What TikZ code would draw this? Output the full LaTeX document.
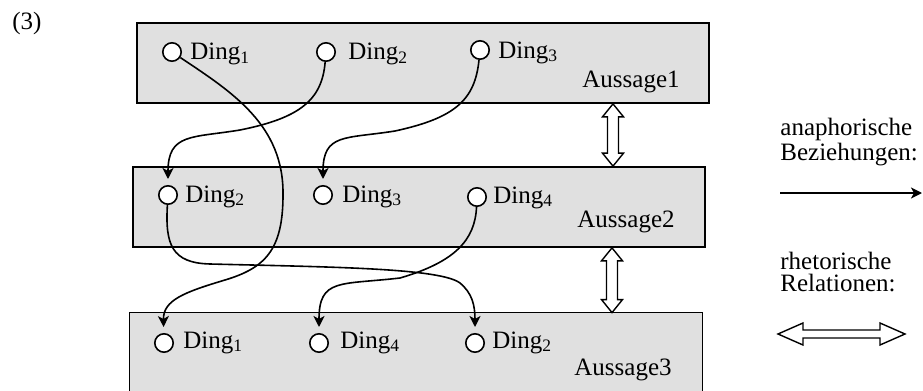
\documentclass[tikz,border=0pt]{standalone}
\usepackage{fontspec}
\setmainfont{Liberation Serif}
\usetikzlibrary{arrows.meta,calc}
\definecolor{boxgray}{RGB}{224,224,224}
\begin{document}
\begin{tikzpicture}[x=0.5pt,y=-0.5pt,
  box/.style={draw, line width=0.85pt, fill=boxgray, rectangle, inner sep=0,
    minimum width=286pt, minimum height=40pt},
  ding/.style={circle, draw, line width=0.8pt, fill=white, minimum size=9.2pt, inner sep=0},
  lbl/.style={anchor=base west, inner sep=0, font=\fontsize{12.5pt}{10pt}\selectfont},
  legend/.style={anchor=base west, inner sep=0, align=left, font=\fontsize{12.5pt}{10.6pt}\selectfont},
  link/.style={line width=0.8pt, -{Stealth[length=5.5pt,width=5.5pt,inset=1.5pt]}, shorten >=3pt},
  hollow/.style={draw, line width=0.7pt, fill=white, line join=miter}]
\useasboundingbox (0,0) rectangle (923,391);

% boxes
\node[box] (b1) at (423,63) {};
\node[box] (b2) at (419,207) {};
\node[fill=boxgray, inner sep=0, minimum width=286pt, minimum height=39pt] (b3) at (416,352) {};
\draw[line width=0.85pt] (b3.south west) |- (b3.north east) -- (b3.south east);

% circles
\node[ding] (c11) at (172,52) {};
\node[ding] (c12) at (326,52) {};
\node[ding] (c13) at (480,50) {};
\node[ding] (c22) at (168,195) {};
\node[ding] (c23) at (323,195) {};
\node[ding] (c24) at (477,197) {};
\node[ding] (c31) at (164,343) {};
\node[ding] (c34) at (319,343) {};
\node[ding] (c32) at (475,343) {};

% labels
\node[lbl] (t11) at (190,60) {Ding\textsubscript{1}};
\node[lbl] (t12) at (348,60) {Ding\textsubscript{2}};
\node[lbl] (t13) at (498,58) {Ding\textsubscript{3}};
\node[lbl] (t22) at (185,202) {Ding\textsubscript{2}};
\node[lbl] (t23) at (342,202) {Ding\textsubscript{3}};
\node[lbl] (t24) at (493,203) {Ding\textsubscript{4}};
\node[lbl] (t31) at (183,348) {Ding\textsubscript{1}};
\node[lbl] (t34) at (340,348) {Ding\textsubscript{4}};
\node[lbl] (t32) at (492,348) {Ding\textsubscript{2}};
\node[lbl] (a1) at (582,87) {Aussage1};
\node[lbl] (a2) at (577,227) {Aussage2};
\node[lbl] (a3) at (574,375) {Aussage3};
\node[lbl] (num) at (12,30) {(3)};
\node[legend] (l1) at (780,160) {anaphorische\\Beziehungen:};
\node[legend] (l3) at (780,291) {rhetorische\\Relationen:};

% anaphoric links
\draw[link] (c11) .. controls (232,92) and (284,125) .. (283,195)
  .. controls (283,250) and (265,268) .. (225,280)
  .. controls (185,292) and (163,300) .. (c31);
\draw[link] (c12) .. controls (322,100) and (300,118) .. (240,130)
  .. controls (192,138) and (168,133) .. (c22);
\draw[link] (c13) .. controls (475,100) and (455,118) .. (395,131)
  .. controls (345,139) and (323,133) .. (c23);
\draw[link] (c22) .. controls (165,245) and (172,263) .. (210,264)
  .. controls (330,267) and (440,268) .. (460,283)
  .. controls (472,293) and (475,305) .. (c32);
\draw[link] (c24) .. controls (475,240) and (455,262) .. (400,278)
  .. controls (340,285) and (319,278) .. (c34);

% rhetorical relations
\coordinate (v1) at (613,0);
\coordinate (v2) at (612,0);
\draw[hollow] let \p1=(b1.south -| v1), \p2=(b2.north -| v1) in
  (\x1,\y1) -- (\x1+5.25pt,\y1-6.5pt) -- (\x1+2.75pt,\y1-6.5pt) -- (\x1+2.75pt,\y2+6.5pt)
  -- (\x1+5.25pt,\y2+6.5pt) -- (\x1,\y2) -- (\x1-5.25pt,\y2+6.5pt) -- (\x1-2.75pt,\y2+6.5pt)
  -- (\x1-2.75pt,\y1-6.5pt) -- (\x1-5.25pt,\y1-6.5pt) -- cycle;
\draw[hollow] let \p1=(b2.south -| v2), \p2=(b3.north -| v2) in
  (\x1,\y1) -- (\x1+5.25pt,\y1-6.5pt) -- (\x1+2.75pt,\y1-6.5pt) -- (\x1+2.75pt,\y2+6.5pt)
  -- (\x1+5.25pt,\y2+6.5pt) -- (\x1,\y2) -- (\x1-5.25pt,\y2+6.5pt) -- (\x1-2.75pt,\y2+6.5pt)
  -- (\x1-2.75pt,\y1-6.5pt) -- (\x1-5.25pt,\y1-6.5pt) -- cycle;

% legend
\coordinate (la1) at (780,193);
\coordinate (la2) at (922,193);
\draw[line width=0.8pt, -{Stealth[length=5.5pt,width=5.5pt,inset=1.5pt]}] (la1) -- (la2);
\coordinate (h1) at (778,334);
\coordinate (h2) at (905,334);
\draw[hollow] let \p1=(h1), \p2=(h2) in
  (\x1,\y1) -- (\x1+12.5pt,\y1+5.5pt) -- (\x1+12.5pt,\y1+2pt) -- (\x2-12.5pt,\y1+2pt)
  -- (\x2-12.5pt,\y1+5.5pt) -- (\x2,\y1) -- (\x2-12.5pt,\y1-5.5pt) -- (\x2-12.5pt,\y1-2pt)
  -- (\x1+12.5pt,\y1-2pt) -- (\x1+12.5pt,\y1-5.5pt) -- cycle;
\end{tikzpicture}
\end{document}
